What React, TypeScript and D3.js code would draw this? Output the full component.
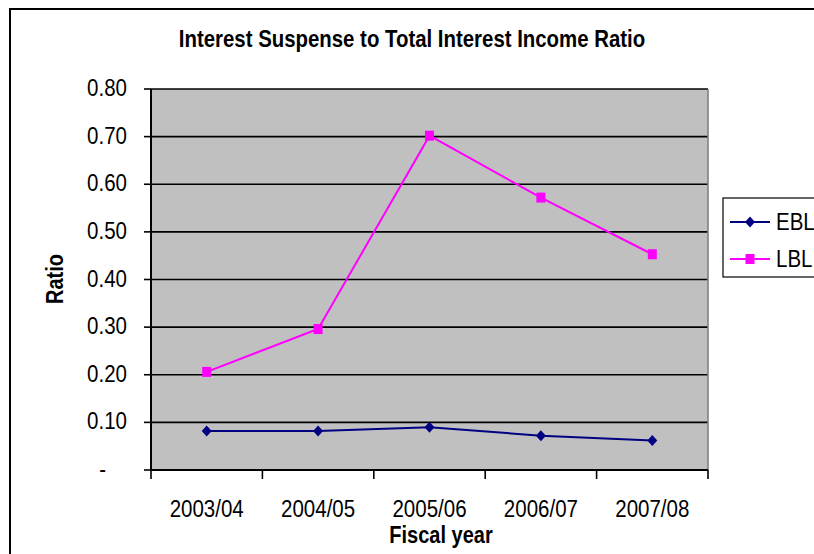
import React from "react";
import * as d3 from "d3";

const categories = ["2003/04", "2004/05", "2005/06", "2006/07", "2007/08"];
const eblValues = [0.082, 0.082, 0.09, 0.072, 0.062];
const lblValues = [0.206, 0.296, 0.702, 0.572, 0.453];
const yTicks = [0, 0.1, 0.2, 0.3, 0.4, 0.5, 0.6, 0.7, 0.8];
const seriesNames = ["EBL", "LBL"];
const seriesColors = ["#000080", "#FF00FF"];

const W = 814;
const H = 554;
const plot = { left: 151, right: 708, top: 89, bottom: 470 };
const SY = 1.15;
const FONT = "Arial, 'Liberation Sans', sans-serif";

export default function App() {
  const x = d3.scaleBand<string>().domain(categories).range([plot.left, plot.right]);
  const y = d3.scaleLinear().domain([0, 0.8]).range([plot.bottom, plot.top]);
  const line = d3
    .line<number>()
    .x((_, i) => (x(categories[i]) as number) + x.bandwidth() / 2)
    .y((d) => y(d));
  const fmt = (v: number) => (v === 0 ? "-" : d3.format(".2f")(v));
  const series = [eblValues, lblValues];

  const diamond = (cx: number, cy: number, c: string, k: string) => (
    <path key={k} d={`M${cx},${cy - 5.5} L${cx + 5},${cy} L${cx},${cy + 5.5} L${cx - 5},${cy} Z`} fill={c} />
  );
  const square = (cx: number, cy: number, c: string, k: string) => (
    <rect key={k} x={cx - 4.5} y={cy - 5} width={9} height={10} fill={c} />
  );
  const marker = (si: number, cx: number, cy: number, k: string) =>
    si === 0 ? diamond(cx, cy, seriesColors[si], k) : square(cx, cy, seriesColors[si], k);

  const T = (props: { x: number; y: number; size: number; bold?: boolean; anchor?: string; rotate?: boolean; children: any }) => (
    <text
      transform={`translate(${props.x},${props.y}) ${props.rotate ? `scale(${SY},1) rotate(-90)` : `scale(1,${SY})`}`}
      fontSize={props.size}
      fontWeight={props.bold ? "bold" : "normal"}
      textAnchor={props.anchor || "start"}
      fontFamily={FONT}
      fill="#000"
    >
      {props.children}
    </text>
  );

  return (
    <svg width={W} height={H} style={{ position: "absolute", left: 0, top: 0, background: "#fff" }}>
      <rect x={10} y={9} width={W + 20} height={H + 20} fill="#fff" stroke="#000" strokeWidth={2} />
      <T x={412} y={47} size={20.4} bold anchor="middle">
        Interest Suspense to Total Interest Income Ratio
      </T>
      <rect x={plot.left} y={plot.top} width={plot.right - plot.left} height={plot.bottom - plot.top} fill="#C0C0C0" />
      {yTicks.map((t) => (
        <g key={t}>
          {t > 0 && (
            <line x1={plot.left} x2={plot.right} y1={y(t)} y2={y(t)} stroke="#000" strokeWidth={1.6} />
          )}
          <line x1={plot.left - 7} x2={plot.left} y1={y(t)} y2={y(t)} stroke="#000" strokeWidth={1.6} />
          <T x={t === 0 ? 106 : 127} y={y(t) + 7} size={20.5} anchor="end">
            {fmt(t)}
          </T>
        </g>
      ))}
      <line x1={plot.right} x2={plot.right} y1={plot.top} y2={plot.bottom} stroke="#808080" strokeWidth={1.6} />
      <line x1={plot.left} x2={plot.left} y1={plot.top} y2={plot.bottom + 1} stroke="#000" strokeWidth={2} />
      <line x1={plot.left} x2={plot.right} y1={plot.bottom} y2={plot.bottom} stroke="#000" strokeWidth={2} />
      {categories.map((c) => (
        <line key={"t" + c} x1={x(c) as number} x2={x(c) as number} y1={plot.bottom} y2={plot.bottom + 9} stroke="#000" strokeWidth={1.6} />
      ))}
      <line x1={plot.right} x2={plot.right} y1={plot.bottom} y2={plot.bottom + 9} stroke="#000" strokeWidth={1.6} />
      {categories.map((c) => (
        <T key={"l" + c} x={(x(c) as number) + x.bandwidth() / 2} y={517} size={20.5} anchor="middle">
          {c}
        </T>
      ))}
      <T x={441} y={543} size={20} bold anchor="middle">
        Fiscal year
      </T>
      <T x={63} y={279} size={20} bold anchor="middle" rotate>
        Ratio
      </T>
      {series.map((vals, si) => (
        <g key={"s" + si}>
          <path d={line(vals) || ""} fill="none" stroke={seriesColors[si]} strokeWidth={2} />
          {vals.map((v, i) =>
            marker(si, (x(categories[i]) as number) + x.bandwidth() / 2, y(v), `m${si}-${i}`)
          )}
        </g>
      ))}
      <rect x={723} y={198} width={120} height={79} fill="#fff" stroke="#000" strokeWidth={1.2} />
      {seriesNames.map((n, si) => {
        const ly = si === 0 ? 222 : 259;
        return (
          <g key={"lg" + n}>
            <line x1={730} x2={770} y1={ly} y2={ly} stroke={seriesColors[si]} strokeWidth={2} />
            {marker(si, 750, ly, "lm" + n)}
            <T x={776} y={ly + 8} size={20.5}>
              {n}
            </T>
          </g>
        );
      })}
    </svg>
  );
}
